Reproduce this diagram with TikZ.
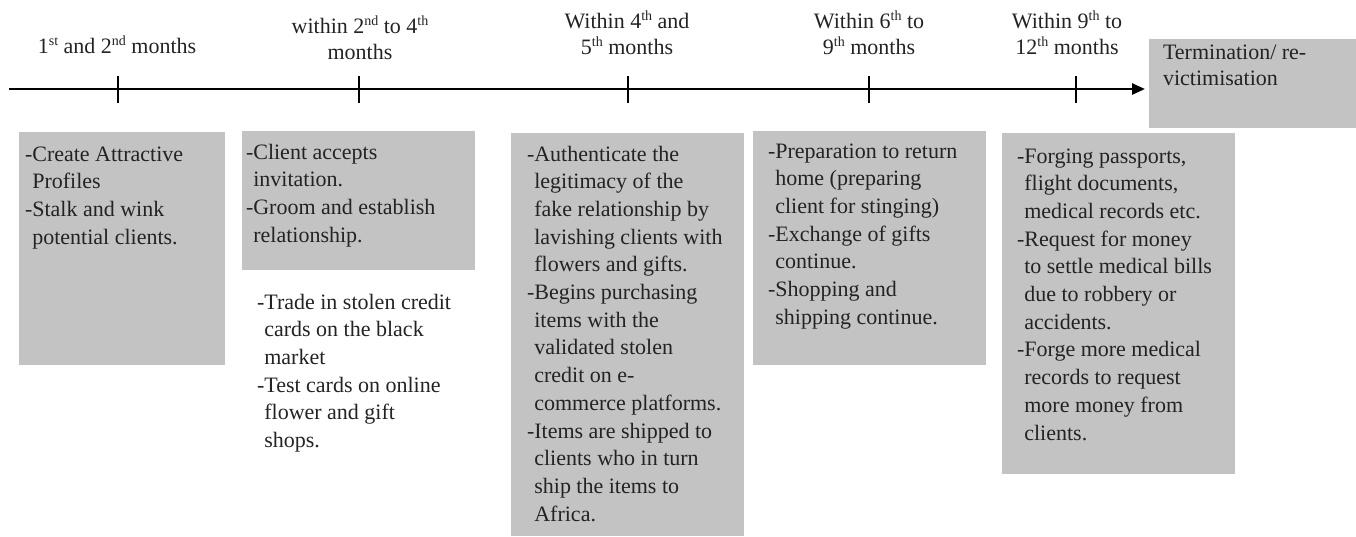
\documentclass[tikz,border=0pt]{standalone}
\usepackage{fontspec}
\setmainfont{Liberation Serif}
\usetikzlibrary{arrows.meta}
\definecolor{boxgray}{RGB}{195,195,195}
\definecolor{ink}{RGB}{35,35,35}
\newcommand\sups[1]{\raisebox{0.36em}{\fontsize{14}{14}\selectfont #1}}
\newcommand\dsh{-\hspace{2pt}}
\tikzset{
  lbl/.style={inner sep=0pt, outer sep=0pt, anchor=base, font=\fontsize{22}{26}\selectfont, text=ink},
  lst/.style={inner sep=0pt, outer sep=0pt, anchor=base west, font=\fontsize{22}{27.7}\selectfont, text=ink},
  gbox/.style={fill=boxgray, draw=none, inner sep=0pt, outer sep=0pt, anchor=north west},
  axis/.style={line width=2.6pt, black, -{Triangle[length=13pt,width=11pt]}},
  tickmark/.style={line width=1.6pt, black}
}
\begin{document}
\begin{tikzpicture}[x=1pt,y=-1pt]
\useasboundingbox (0,0) rectangle (1356,536);
% grey boxes
\node[gbox, minimum width=206pt, minimum height=233pt] (b1) at (19,132) {};
\node[gbox, minimum width=233pt, minimum height=139pt] (b2) at (242,131) {};
\node[gbox, minimum width=233pt, minimum height=403pt] (b3) at (511,133) {};
\node[gbox, minimum width=233pt, minimum height=234pt] (b4) at (753,131) {};
\node[gbox, minimum width=233pt, minimum height=341pt] (b5) at (1002,133) {};
\node[gbox, minimum width=207pt, minimum height=89pt] (bt) at (1149,39) {};
% timeline
\coordinate (ts) at (9,89);
\coordinate (te) at (1145,89);
\draw[axis] (ts) -- (te);
\foreach \n/\xx in {1/118,2/359,3/628,4/869,5/1076}{
  \coordinate (t\n) at (\xx,89);
  \draw[tickmark] (t\n) ++(0,-13) -- ++(0,27);
}
% period labels
\node[lbl] (l1) at (117,53) {1\sups{st} and 2\sups{nd} months};
\node[lbl] (l2) at (360,33) {\begin{tabular}[t]{@{}c@{}}within 2\sups{nd} to 4\sups{th}\\ months\end{tabular}};
\node[lbl] (l3) at (627,28) {\begin{tabular}[t]{@{}c@{}}Within 4\sups{th} and\\ 5\sups{th} months\end{tabular}};
\node[lbl] (l4) at (869,28) {\begin{tabular}[t]{@{}c@{}}Within 6\sups{th} to\\ 9\sups{th} months\end{tabular}};
\node[lbl] (l5) at (1067,28) {\begin{tabular}[t]{@{}c@{}}Within 9\sups{th} to\\ 12\sups{th} months\end{tabular}};
\node[lst, font=\fontsize{22}{26}\selectfont] (lt) at (1163,59) {\begin{tabular}[t]{@{}l@{}}Termination/ re-\\ victimisation\end{tabular}};
% box texts
\node[lst] (x1) at (25,161) {\begin{tabular}[t]{@{}l@{}l@{}}
\dsh & Create Attractive\\ & Profiles\\ \dsh & Stalk and wink\\ & potential clients.\end{tabular}};
\node[lst] (x2) at (246,159) {\begin{tabular}[t]{@{}l@{}l@{}}
\dsh & Client accepts\\ & invitation.\\ \dsh & Groom and establish\\ & relationship.\end{tabular}};
\node[lst] (x2b) at (257,309) {\begin{tabular}[t]{@{}l@{}l@{}}
\dsh & Trade in stolen credit\\ & cards on the black\\ & market\\ \dsh & Test cards on online\\ & flower and gift\\ & shops.\end{tabular}};
\node[lst] (x3) at (527,161) {\begin{tabular}[t]{@{}l@{}l@{}}
\dsh & Authenticate the\\ & legitimacy of the\\ & fake relationship by\\ & lavishing clients with\\ & flowers and gifts.\\
\dsh & Begins purchasing\\ & items with the\\ & validated stolen\\ & credit on e-\\ & commerce platforms.\\
\dsh & Items are shipped to\\ & clients who in turn\\ & ship the items to\\ & Africa.\end{tabular}};
\node[lst] (x4) at (768,158) {\begin{tabular}[t]{@{}l@{}l@{}}
\dsh & Preparation to return\\ & home (preparing\\ & client for stinging)\\ \dsh & Exchange of gifts\\ & continue.\\ \dsh & Shopping and\\ & shipping continue.\end{tabular}};
\node[lst] (x5) at (1017,163) {\begin{tabular}[t]{@{}l@{}l@{}}
\dsh & Forging passports,\\ & flight documents,\\ & medical records etc.\\ \dsh & Request for money\\ & to settle medical bills\\ & due to robbery or\\ & accidents.\\ \dsh & Forge more medical\\ & records to request\\ & more money from\\ & clients.\end{tabular}};
\end{tikzpicture}
\end{document}
